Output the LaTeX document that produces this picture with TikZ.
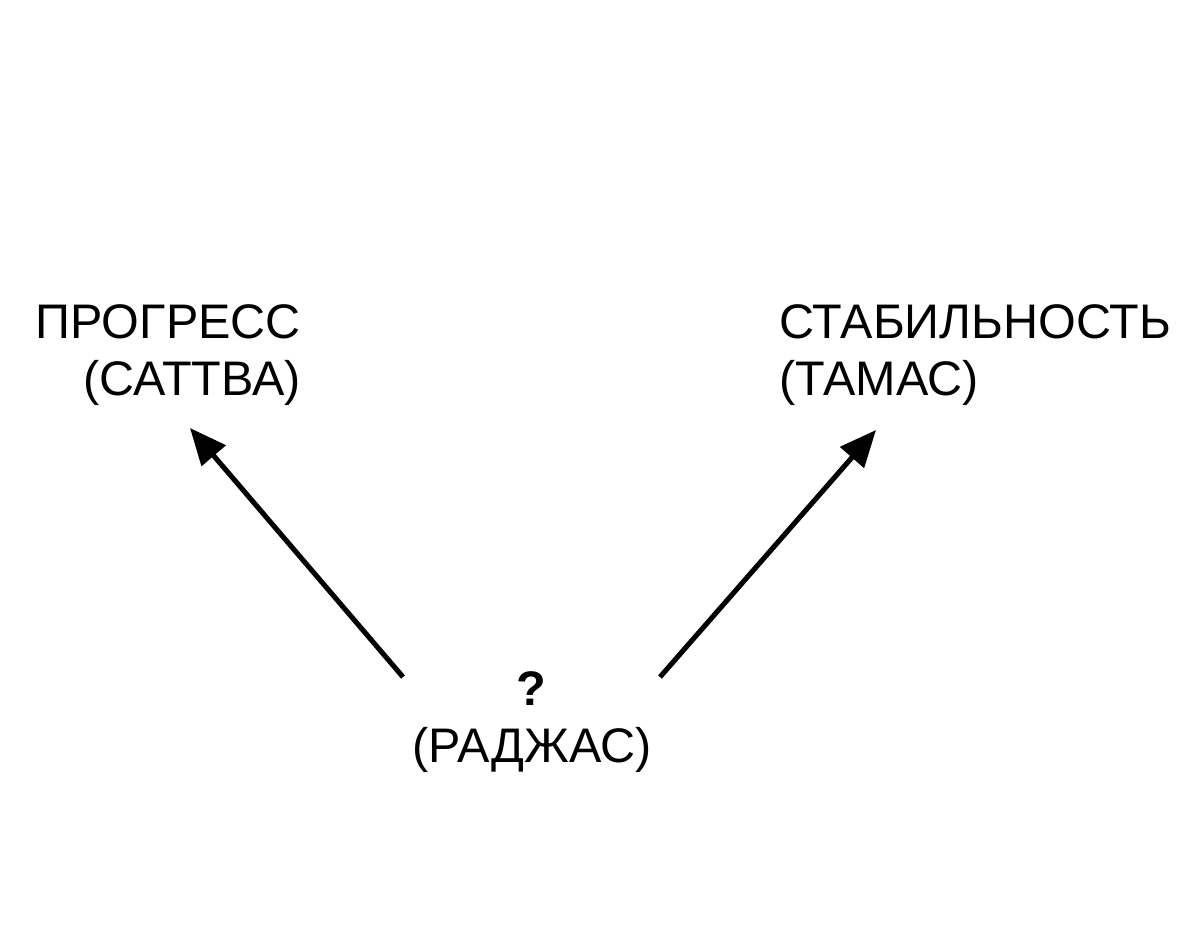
\documentclass[tikz,border=0pt]{standalone}
\usepackage{fontspec}
\setmainfont{Liberation Sans}
\usetikzlibrary{arrows.meta}
\begin{document}
\begin{tikzpicture}[x=0.025cm,y=-0.025cm,
  lbl/.style={inner sep=0pt,font=\fontsize{34.5}{40}\selectfont},
  arr/.style={line width=3.6pt,-{Triangle[length=26pt,width=22pt]}}]
\useasboundingbox (0,0) rectangle (1200,927);
\node[lbl,anchor=base east] (p1) at (301,338) {ПРОГРЕСС};
\node[lbl,anchor=base east] (p2) at (301,395) {(САТТВА)};
\node[lbl,anchor=base west] (s1) at (779,338) {СТАБИЛЬНОСТЬ};
\node[lbl,anchor=base west] (s2) at (779,395) {(ТАМАС)};
\node[lbl,anchor=base,font=\fontsize{34.5}{40}\bfseries] (q) at (531,705) {?};
\node[lbl,anchor=base] (r) at (532,762) {(РАДЖАС)};
\coordinate (a1) at (403,677);
\coordinate (a2) at (190,428);
\coordinate (b1) at (660,677);
\coordinate (b2) at (876,430);
\draw[arr] (a1) -- (a2);
\draw[arr] (b1) -- (b2);
\end{tikzpicture}
\end{document}
